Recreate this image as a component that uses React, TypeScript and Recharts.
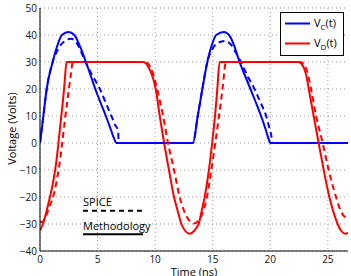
import React from "react";
import { LineChart, Line, XAxis, YAxis, CartesianGrid, Legend } from "recharts";

const FONT = "'Open Sans', 'DejaVu Sans', sans-serif";
const BLUE = "#0000ff";
const RED = "#ff0000";

const xTicks = [0, 5, 10, 15, 20, 25];
const yTicks = [-40, -30, -20, -10, 0, 10, 20, 30, 40, 50];

// V_C(t) from the methodology (solid)
const vcTime = [
  0, 0.29, 0.58, 1.1, 1.5, 1.9, 2.48, 2.98, 3.5, 3.99, 4.4, 4.8, 5.25, 5.72, 6.15, 6.45, 6.62,
  13.28, 13.7, 14.1, 14.53, 14.9, 15.3, 15.97, 16.5, 16.95, 17.33, 17.8, 18.28, 18.75, 19.2, 19.6,
  19.85, 20.0, 26.75,
];
const vcVolts = [
  0, 10, 20, 30, 36, 40, 41.1, 40, 35.5, 30, 25, 20, 15, 10, 5, 1.5, 0,
  0, 10, 20, 30, 36, 40, 41.1, 39.5, 35, 30, 25, 20, 15, 10, 5,
  1.5, 0, 0,
];

// V_C(t) from SPICE (dashed)
const vcSpiceTime = [
  0, 0.29, 0.58, 1.1, 1.6, 2.1, 2.7, 3.2, 3.6, 3.95, 4.55, 5.2, 5.7, 6.2, 6.55, 6.79, 6.83,
  13.28, 13.7, 14.1, 14.53, 15.0, 15.5, 16.1, 16.6, 17.0, 17.45, 18.0, 18.63, 19.15, 19.64, 19.95,
  20.13, 20.16, 26.75,
];
const vcSpiceVolts = [
  0, 10, 20, 30, 35, 37.6, 38.6, 37, 33.5, 30, 25, 20, 15, 10, 6.5, 4.5, 0,
  0, 10, 20, 30, 35, 37.2, 37.8, 36.3, 33.5, 30, 25, 20, 15, 10, 5,
  1.6, 0, 0,
];

// V_D(t) from the methodology (solid)
const vdTime = [
  0, 0.25, 0.5, 0.75, 1.0, 1.2, 1.4, 1.6, 1.8, 2.0, 2.15, 2.3, 8.95, 9.2, 9.45, 9.7, 10.05, 10.4,
  10.78, 11.2, 11.64, 11.95, 12.28, 12.6, 13.0, 13.4, 13.6, 13.78, 14.05, 14.3, 14.5, 14.67, 14.95,
  15.2, 15.4, 15.6, 22.47, 22.7, 22.95, 23.15, 23.34, 23.77, 24.2, 24.64, 25.13, 25.45, 25.85,
  26.15, 26.52, 26.75,
];
const vdVolts = [
  -32.4, -30, -26.5, -22, -17.5, -13, -7.5, 0, 8, 16, 23, 30, 30, 29.5, 27.8, 25.5, 20, 10,
  0, -10, -20, -25, -30, -32.5, -33.6, -32.5, -31.3, -30, -25, -20, -15, -10, 0,
  10, 20, 30, 30, 29.3, 27.5, 24.5, 20, 10, 0, -10, -20, -25, -30,
  -32.5, -33.6, -33.3,
];

// V_D(t) from SPICE (dashed)
const vdSpiceTime = [
  0, 0.15, 0.4, 0.8, 1.2, 1.45, 1.65, 1.9, 2.15, 2.45, 2.7, 2.85, 9.1, 9.4, 9.8, 10.17, 10.69,
  11.12, 11.64, 12.13, 12.5, 12.85, 13.35, 13.8, 14.2, 14.5, 14.88, 15.22, 15.55, 15.85, 16.15,
  22.6, 22.9, 23.2, 23.54, 23.98, 24.55, 25.07, 25.71, 26.1, 26.43, 26.75,
];
const vdSpiceVolts = [
  -29, -29.3, -28.2, -23.7, -19, -14, -9, -1, 8, 18, 26, 30, 30, 29.3, 26, 20, 10,
  0, -10, -20, -25, -28, -29.8, -28.5, -25, -20, -10, 0, 10, 20, 30,
  30, 29.3, 26.5, 20, 10, 0, -10, -20, -25, -27.2, -28.5,
];

const toPoints = (t: number[], v: number[]) => t.map((x, i) => ({ t: x, v: v[i] }));

const vcData = toPoints(vcTime, vcVolts);
const vcSpiceData = toPoints(vcSpiceTime, vcSpiceVolts);
const vdData = toPoints(vdTime, vdVolts);
const vdSpiceData = toPoints(vdSpiceTime, vdSpiceVolts);

const fmtTick = (v: number) => (v < 0 ? `\u2212${Math.abs(v)}` : `${v}`);

// legend box in the upper right corner
const renderLegend = () => (
  <svg width={64} height={44} style={{ display: "block" }}>
    <rect x={0.5} y={0.5} width={63} height={43} fill="#fff" stroke="#000" strokeWidth={1} />
    {[
      { sub: "C", color: BLUE, y: 11.5 },
      { sub: "D", color: RED, y: 31.5 },
    ].map((it) => (
      <g key={it.sub}>
        <line x1={5} x2={30} y1={it.y} y2={it.y} stroke={it.color} strokeWidth={2} />
        <text x={34} y={it.y + 3.5} fontSize={11} fontFamily={FONT} fill="#000">
          V<tspan fontSize={8} dy={3}>{it.sub}</tspan>
          <tspan fontSize={11} dy={-3}>(t)</tspan>
        </text>
      </g>
    ))}
  </svg>
);

const renderYTitle = (props: any) => {
  const { viewBox } = props;
  const cx = viewBox.x + 11;
  const cy = viewBox.y + viewBox.height / 2 - 1;
  return (
    <text
      x={cx}
      y={cy}
      transform={`rotate(-90 ${cx} ${cy})`}
      textAnchor="middle"
      dominantBaseline="central"
      fontSize={11}
      fontFamily={FONT}
      fill="#000"
    >
      Voltage (Volts)
    </text>
  );
};

export default function App() {
  return (
    <div style={{ position: "absolute", left: 0, top: 0, width: 351, height: 276, background: "#fff" }}>
      <LineChart
        width={351}
        height={276}
        margin={{ top: 8, right: 3, bottom: 0, left: 0 }}
        style={{ fontFamily: FONT }}
      >
        <CartesianGrid stroke="#999" strokeDasharray="1 3" horizontalValues={yTicks} verticalValues={xTicks} />
        <XAxis
          type="number"
          dataKey="t"
          domain={[0, 26.75]}
          ticks={xTicks}
          interval={0}
          height={25}
          tickSize={0}
          tickMargin={5}
          tickLine={false}
          axisLine={{ stroke: "#000" }}
          tick={{ fontSize: 10, fill: "#111" }}
          allowDataOverflow
          label={{ value: "Time (ns)", position: "insideBottom", offset: 0, fontSize: 11, fill: "#000" }}
        />
        <YAxis
          type="number"
          domain={[-40, 50]}
          ticks={yTicks}
          interval={0}
          width={40}
          tickSize={0}
          tickMargin={3}
          tickLine={false}
          axisLine={{ stroke: "#000" }}
          tick={{ fontSize: 10, fill: "#111" }}
          tickFormatter={fmtTick}
          allowDataOverflow
          label={renderYTitle}
        />
        <Legend
          layout="horizontal"
          verticalAlign="middle"
          align="center"
          content={renderLegend}
          wrapperStyle={{ position: "absolute", top: 12, left: 280, width: 64, height: 44, margin: 0, padding: 0 }}
        />
        <Line data={vcData} dataKey="v" name="VC(t)" type="monotone" stroke={BLUE} strokeWidth={2} dot={false} isAnimationActive={false} />
        <Line data={vdData} dataKey="v" name="VD(t)" type="monotone" stroke={RED} strokeWidth={2} dot={false} isAnimationActive={false} />
        <Line data={vcSpiceData} dataKey="v" name="VC SPICE" type="monotone" stroke={BLUE} strokeWidth={2} strokeDasharray="6 4" dot={false} legendType="none" isAnimationActive={false} />
        <Line data={vdSpiceData} dataKey="v" name="VD SPICE" type="monotone" stroke={RED} strokeWidth={2} strokeDasharray="6 4" dot={false} legendType="none" isAnimationActive={false} />
      </LineChart>
      {/* SPICE / Methodology line-style key */}
      <svg width={351} height={276} style={{ position: "absolute", left: 0, top: 0, pointerEvents: "none" }}>
        <text x={83} y={206} fontSize={11} fontFamily={FONT} fill="#000">SPICE</text>
        <line x1={83} x2={143} y1={210.7} y2={210.7} stroke="#000" strokeWidth={2} strokeDasharray="5 4" />
        <text x={83} y={230} fontSize={11} fontFamily={FONT} fill="#000">Methodology</text>
        <line x1={83} x2={143} y1={234.3} y2={234.3} stroke="#000" strokeWidth={2} />
      </svg>
    </div>
  );
}
